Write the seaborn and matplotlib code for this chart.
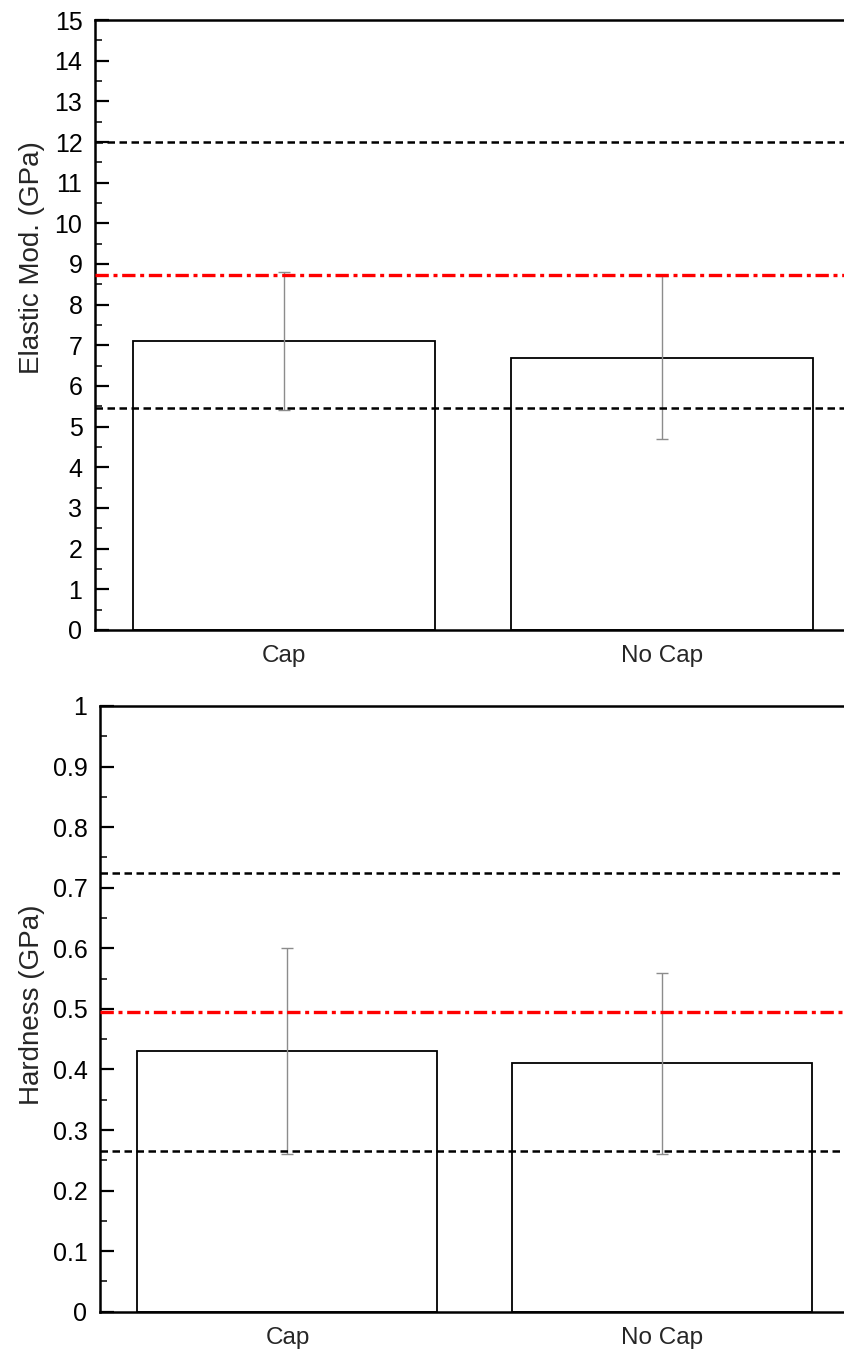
import numpy as np
import pandas as pd
import matplotlib
matplotlib.use("Agg")
import matplotlib.pyplot as plt
from matplotlib.ticker import MultipleLocator
import seaborn as sns

# data
groups = ["Cap", "No Cap"]
modulus = [7.1, 6.7]
modulus_err = [1.7, 2.0]
modulus_black = [12.0, 5.45]
modulus_red = 8.72

hardness = [0.43, 0.41]
hardness_err = [0.17, 0.15]
hardness_black = [0.725, 0.265]
hardness_red = 0.495

sns.set_theme(style="white")
plt.rcParams["font.family"] = ["Liberation Sans", "DejaVu Sans"]

fig = plt.figure(figsize=(8.45, 13.53), dpi=100)
ax1 = fig.add_axes([0.1124, 0.5344, 0.8947, 0.4508])
ax2 = fig.add_axes([0.1183, 0.0305, 0.8876, 0.4477])


def panel(ax, vals, errs, blacks, red, ylim, major, minor, ylabel, lab_xy):
    df = pd.DataFrame({"group": groups, "value": vals})
    sns.barplot(data=df, x="group", y="value", ax=ax, color="white",
                edgecolor="black", linewidth=1.3, width=0.8, errorbar=None,
                saturation=1)
    centers = [p.get_x() + p.get_width() / 2 for p in ax.patches]
    ax.errorbar(centers, vals, yerr=errs, fmt="none", ecolor="#8c8c8c",
                elinewidth=1.0, capsize=4, capthick=1.0, zorder=3)
    for b in blacks:
        ax.axhline(b, color="black", linestyle=(0, (3, 1.8)), linewidth=1.8,
                   zorder=4)
    ax.axhline(red, color="#ff0000", linestyle=(0, (4, 1.4, 1.2, 1.4)),
               linewidth=2.4, zorder=4)
    ax.set_xlim(-0.5, 1.5)
    ax.set_ylim(*ylim)
    ax.yaxis.set_major_locator(MultipleLocator(major))
    ax.yaxis.set_minor_locator(MultipleLocator(minor))
    ax.tick_params(axis="y", which="major", direction="in", length=10,
                   width=1.6, labelsize=18, pad=9, left=True, colors="black")
    ax.tick_params(axis="y", which="minor", direction="in", length=5,
                   width=1.3, left=True)
    ax.tick_params(axis="x", length=0, labelsize=17.5, pad=11)
    ax.set_xlabel("")
    ax.set_ylabel(ylabel, fontsize=20)
    ax.yaxis.set_label_coords(*lab_xy)
    for side in ["left", "bottom", "top"]:
        ax.spines[side].set_color("black")
        ax.spines[side].set_linewidth(1.8)
    ax.spines["right"].set_visible(False)


panel(ax1, modulus, modulus_err, modulus_black, modulus_red, (0, 15), 1, 0.5,
      "Elastic Mod. (GPa)", (-0.066, 0.611))
ax1.yaxis.set_major_formatter(plt.FuncFormatter(lambda v, p: f"{v:.0f}"))

panel(ax2, hardness, hardness_err, hardness_black, hardness_red, (0, 1), 0.1,
      0.05, "Hardness (GPa)", (-0.073, 0.506))
ax2.yaxis.set_major_formatter(
    plt.FuncFormatter(lambda v, p: "0" if v == 0 else ("1" if v == 1 else f"{v:.1f}")))

fig.savefig("out.png", dpi=100)
